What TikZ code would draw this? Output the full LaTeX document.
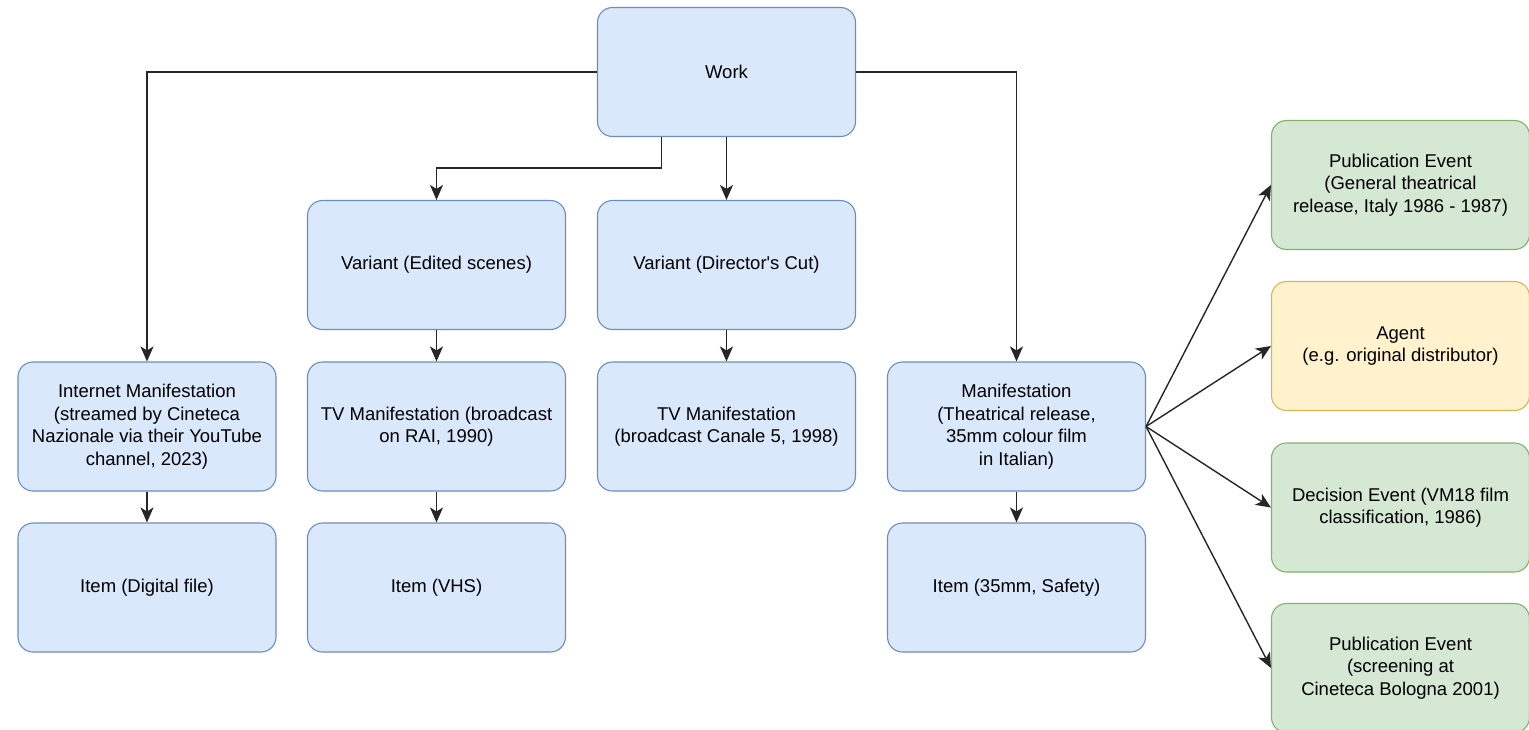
\documentclass[tikz,border=0pt]{standalone}
\usepackage{fontspec}
% plain family: no TeX ligature mapping, so ' stays a straight quote
\newfontfamily\diagfont{Liberation Sans}
\usetikzlibrary{arrows.meta,calc}
\definecolor{bluefill}{HTML}{DAE8FC}
\definecolor{bluedraw}{HTML}{6C8EBF}
\definecolor{greenfill}{HTML}{D5E8D4}
\definecolor{greendraw}{HTML}{82B366}
\definecolor{yellowfill}{HTML}{FFF2CC}
\definecolor{yellowdraw}{HTML}{D6B656}
\definecolor{linecol}{HTML}{262626}
\tikzset{
  entity/.style={rectangle, rounded corners=15pt, line width=1.1pt,
    minimum width=258pt, minimum height=129pt, align=center, inner sep=4pt,
    font=\diagfont\fontsize{18.5}{22.5}\selectfont, text=black},
  bluebox/.style={entity, fill=bluefill, draw=bluedraw},
  greenbox/.style={entity, fill=greenfill, draw=greendraw},
  yellowbox/.style={entity, fill=yellowfill, draw=yellowdraw},
  arr/.style={draw=linecol, line width=1.4pt,
    -{Stealth[length=15pt,width=13pt,inset=4pt]}}
}
\begin{document}
\begin{tikzpicture}[x=1pt,y=-1pt]
\useasboundingbox (0,0) rectangle (1529,729);
\fill[white] (0,0) rectangle (1529,729);

% FRBR-style hierarchy
\node[bluebox] (work) at (726.5,72) {Work};

\node[bluebox] (varE) at (436.5,265) {Variant (Edited scenes)};
\node[bluebox] (varD) at (726.5,265) {Variant (Director's Cut)};

\node[bluebox] (inet) at (147,426.5) {Internet Manifestation\\(streamed by Cineteca\\Nazionale via their YouTube\\channel, 2023)};
\node[bluebox] (tvrai) at (436.5,426.5) {TV Manifestation (broadcast\\on RAI, 1990)};
\node[bluebox] (tvc5) at (726.5,426.5) {TV Manifestation\\(broadcast Canale 5, 1998)};
\node[bluebox] (manT) at (1016.5,426.5) {Manifestation\\(Theatrical release,\\35mm colour film\\in Italian)};

\node[bluebox] (itemD) at (147,587.5) {Item (Digital file)};
\node[bluebox] (itemV) at (436.5,587.5) {Item (VHS)};
\node[bluebox] (item35) at (1016.5,587.5) {Item (35mm, Safety)};

% Events and agents attached to the theatrical manifestation
\node[greenbox] (pub1) at (1400.5,185) {Publication Event\\(General theatrical\\release, Italy 1986 - 1987)};
\node[yellowbox] (agent) at (1400.5,346) {Agent\\(e.g. original distributor)};
\node[greenbox] (dec) at (1400.5,507.5) {Decision Event (VM18 film\\classification, 1986)};
\node[greenbox] (pub2) at (1400.5,668) {Publication Event\\(screening at\\Cineteca Bologna 2001)};

% Connectors
\coordinate (wsplit) at ($(work.south west)!0.25!(work.south east)$);
\draw[arr] (work.west) -| (inet.north);
\draw[arr] (work.east) -| (manT.north);
\draw[arr] (wsplit) -- ++(0,31) -| (varE.north);
\draw[arr] (work.south) -- (varD.north);

\draw[arr] (varE.south) -- (tvrai.north);
\draw[arr] (varD.south) -- (tvc5.north);
\draw[arr] (inet.south) -- (itemD.north);
\draw[arr] (tvrai.south) -- (itemV.north);
\draw[arr] (manT.south) -- (item35.north);

\draw[arr] (manT.east) -- (pub1.west);
\draw[arr] (manT.east) -- (agent.west);
\draw[arr] (manT.east) -- (dec.west);
\draw[arr] (manT.east) -- (pub2.west);
\end{tikzpicture}
\end{document}
